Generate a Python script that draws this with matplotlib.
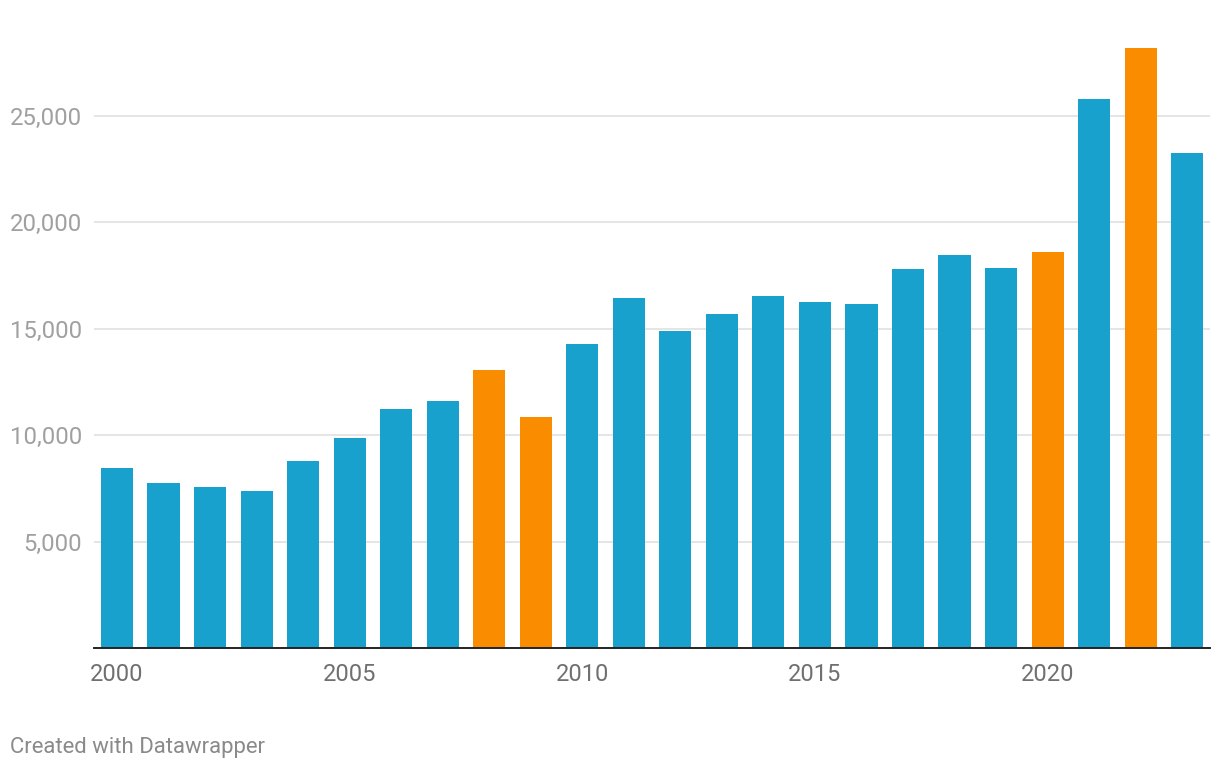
import matplotlib
matplotlib.use("Agg")
import matplotlib.pyplot as plt
from matplotlib.ticker import FuncFormatter

years = list(range(2000, 2024))
values = [8450, 7750, 7560, 7370, 8780, 9860, 11220, 11600, 13050, 10850,
          14270, 16430, 14880, 15680, 16530, 16240, 16150, 17790, 18450, 17840,
          18590, 25770, 28170, 23240]
highlight_years = [2008, 2009, 2020, 2022]
yticks = [5000, 10000, 15000, 20000, 25000]
xtick_years = [2000, 2005, 2010, 2015, 2020]

BLUE = "#18a1cd"
ORANGE = "#fa8c00"

plt.rcParams['font.family'] = ['Roboto', 'DejaVu Sans']

fig = plt.figure(figsize=(12.2, 7.7), dpi=100)
W, H = 1220, 770
left, right = 94, 1210
bottom_px, top_px = 648, 41
ax = fig.add_axes([left / W, 1 - bottom_px / H, (right - left) / W, (bottom_px - top_px) / H])

colors = [ORANGE if y in highlight_years else BLUE for y in years]
ax.bar(years, values, width=0.69, color=colors, zorder=3)

ax.set_xlim(years[0] - 0.494, years[-1] + 0.49)
ax.set_ylim(0, (bottom_px - top_px) / 21.3 * 1000)

ax.set_yticks(yticks)
ax.yaxis.set_major_formatter(FuncFormatter(lambda v, p: f"{int(v):,}"))
ax.grid(axis='y', color='#e5e5e5', linewidth=1.4, zorder=0)
ax.tick_params(axis='y', length=0, pad=8.6, labelsize=17.2, labelcolor='#a0a0a0')

ax.set_xticks(xtick_years)
ax.tick_params(axis='x', length=0, pad=11, labelsize=17, labelcolor='#707070')

for s in ['top', 'right', 'left']:
    ax.spines[s].set_visible(False)
ax.spines['bottom'].set_color('#222222')
ax.spines['bottom'].set_linewidth(1.4)
ax.spines['bottom'].set_zorder(4)

fig.text(10 / W, 1 - 747 / H, "Created with Datawrapper", fontsize=15.9,
         color='#8a8a8a', ha='left', va='center')

fig.savefig("out.png", dpi=100)
